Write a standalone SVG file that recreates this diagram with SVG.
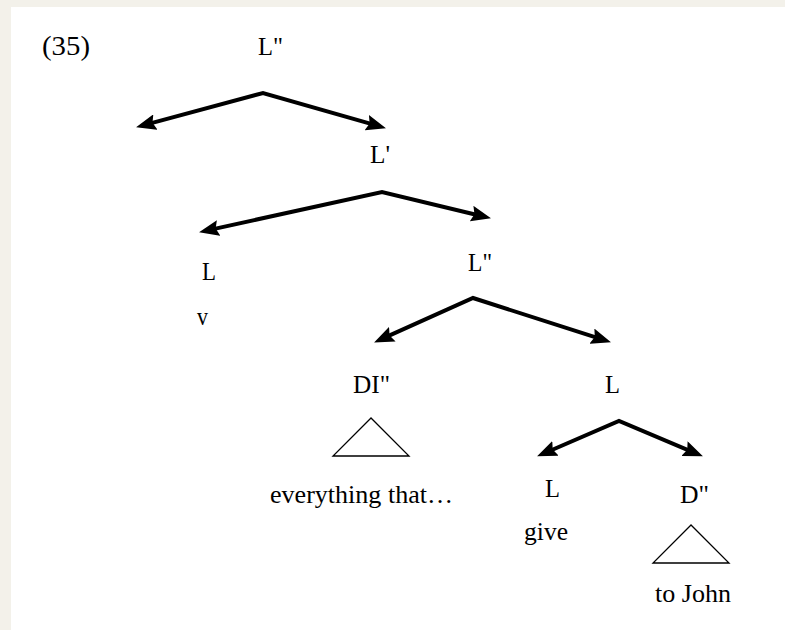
<svg xmlns="http://www.w3.org/2000/svg" width="785" height="630" viewBox="0 0 785 630">
<style>
text{font-family:"Liberation Serif","Times New Roman",serif;font-size:25px;fill:#000}
.num{font-size:28px}
.edge{fill:none;stroke:#000;stroke-width:4;stroke-linejoin:miter;marker-start:url(#ah);marker-end:url(#ah)}
.tri{fill:none;stroke:#000;stroke-width:1.3}
</style>
<defs>
<marker id="ah" viewBox="0 0 20 16" refX="9" refY="8" markerWidth="20" markerHeight="16" markerUnits="userSpaceOnUse" orient="auto-start-reverse">
<path d="M0,0 L20,8 L0,16 L3,8 z" fill="#000"/>
</marker>
</defs>
<rect width="785" height="630" fill="#f3f1ea"/>
<rect x="11" y="7" width="774" height="623" fill="#fff"/>
<text class="num" x="42" y="55" textLength="48" lengthAdjust="spacingAndGlyphs">(35)</text>
<g id="connectors">
<polyline class="edge" points="146.7,124.4 263,93 375.4,125.2"/>
<polyline class="edge" points="209.8,229.9 382,192 480.3,215.7"/>
<polyline class="edge" points="384.1,337.9 473,298 600.5,338.9"/>
<polyline class="edge" points="547.2,452 619,421 692.8,452.1"/>
</g>
<g id="n-Lpp-top"><text x="258" y="55" textLength="25" lengthAdjust="spacingAndGlyphs">L"</text></g>
<g id="n-Lp"><text x="370" y="163" textLength="20" lengthAdjust="spacingAndGlyphs">L'</text></g>
<g id="n-L-v"><text x="202" y="280" textLength="14" lengthAdjust="spacingAndGlyphs">L</text><text x="197" y="325" textLength="11" lengthAdjust="spacingAndGlyphs">v</text></g>
<g id="n-Lpp-mid"><text x="468" y="271" textLength="24" lengthAdjust="spacingAndGlyphs">L"</text></g>
<g id="n-DIpp"><text x="353" y="393" textLength="37" lengthAdjust="spacingAndGlyphs">DI"</text>
<polygon class="tri" points="371,418 333,456 409,456"/>
<text x="270" y="503" textLength="183" lengthAdjust="spacingAndGlyphs">everything that…</text></g>
<g id="n-L-right"><text x="605" y="393" textLength="15" lengthAdjust="spacingAndGlyphs">L</text></g>
<g id="n-L-give"><text x="545" y="497" textLength="15" lengthAdjust="spacingAndGlyphs">L</text><text x="524" y="540" textLength="44" lengthAdjust="spacingAndGlyphs">give</text></g>
<g id="n-Dpp"><text x="680" y="503" textLength="29" lengthAdjust="spacingAndGlyphs">D"</text>
<polygon class="tri" points="691,525 653,563 729,563"/>
<text x="655" y="602" textLength="76" lengthAdjust="spacingAndGlyphs">to John</text></g>
</svg>
